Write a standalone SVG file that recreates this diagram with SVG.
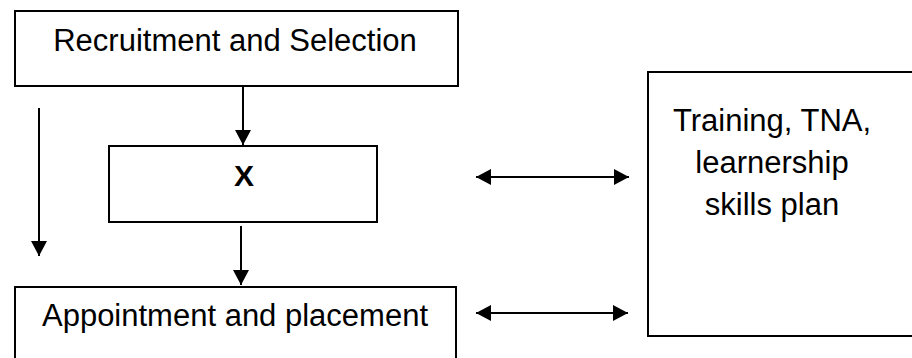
<svg xmlns="http://www.w3.org/2000/svg" width="912" height="358" viewBox="0 0 912 358">
<style>
.box{fill:#fff;stroke:#000;stroke-width:2}
.lbl{font-family:"Liberation Sans",Arial,sans-serif;font-size:31px;fill:#000;text-anchor:middle}
.bold{font-weight:bold;font-size:30px}
.conn{stroke:#000;stroke-width:2;fill:none}
</style>
<defs>
<marker id="ah" markerUnits="userSpaceOnUse" markerWidth="16" markerHeight="16" viewBox="0 0 16 16" refX="15" refY="8" orient="auto-start-reverse">
<path d="M0,0 L15,8 L0,16 Z" fill="#000"/>
</marker>
</defs>
<rect width="912" height="358" fill="#fff"/>
<g id="recruitment">
<rect class="box" x="15" y="11" width="443" height="75"/>
<text class="lbl" x="235" y="51">Recruitment and Selection</text>
</g>
<g id="x">
<rect class="box" x="109" y="146" width="268" height="76"/>
<text class="lbl bold" x="244" y="186">X</text>
</g>
<g id="appointment">
<rect class="box" x="15" y="287" width="441" height="100"/>
<text class="lbl" x="235" y="326">Appointment and placement</text>
</g>
<g id="training">
<rect class="box" x="648" y="72" width="300" height="264"/>
<text class="lbl" x="772" y="131">Training, TNA,</text>
<text class="lbl" x="772" y="173">learnership</text>
<text class="lbl" x="772" y="215">skills plan</text>
</g>
<g id="connectors">
<line class="conn" x1="243" y1="86" x2="243" y2="145" marker-end="url(#ah)"/>
<line class="conn" x1="241" y1="226" x2="241" y2="285" marker-end="url(#ah)"/>
<line class="conn" x1="39" y1="108" x2="39" y2="256" marker-end="url(#ah)"/>
<line class="conn" x1="476" y1="177" x2="629" y2="177" marker-start="url(#ah)" marker-end="url(#ah)"/>
<line class="conn" x1="476" y1="313" x2="628" y2="313" marker-start="url(#ah)" marker-end="url(#ah)"/>
</g>
</svg>
